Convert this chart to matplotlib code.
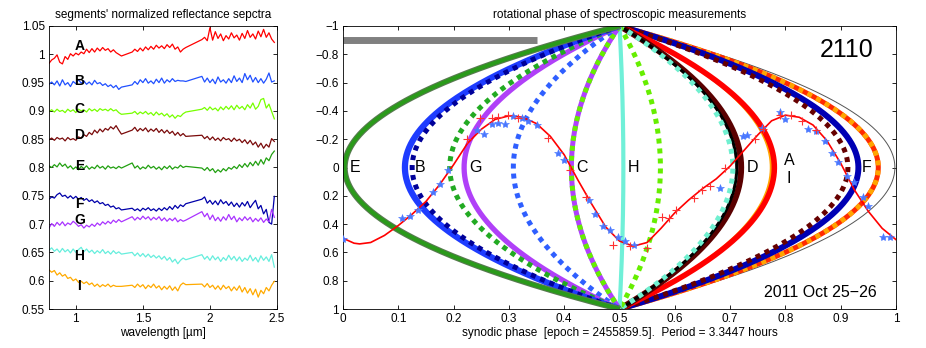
import numpy as np
import matplotlib
matplotlib.use('Agg')
from matplotlib import pyplot as plt

plt.rcParams['font.family'] = ['Liberation Sans', 'DejaVu Sans']

# ---------------- left panel: spectra ----------------
# wavelength grid in three pieces (telluric gaps are bridged by straight lines)
wl = np.r_[np.arange(80, 135, 2), np.arange(142, 183, 2), np.arange(194, 249, 2)] / 100.0

spec_A = [0.984, 0.990, 0.993, 0.999, 0.986, 0.983, 0.996, 0.991, 1.001, 0.997, 1.002, 0.999, 1.004, 1.001,
          1.009, 1.003, 1.010, 1.004, 1.011, 1.006, 1.012, 1.007, 1.010, 1.004, 1.008, 1.003, 1.000, 0.997,
          1.004, 1.009, 1.005, 1.011, 1.006, 1.013, 1.008, 1.014, 1.009, 1.016, 1.011, 1.015, 1.010, 1.017,
          1.012, 1.018, 1.009, 1.013, 1.004, 1.009, 1.012,
          1.026, 1.030, 1.024, 1.047, 1.025, 1.040, 1.028, 1.036, 1.024, 1.033, 1.027, 1.038, 1.029, 1.034,
          1.025, 1.037, 1.028, 1.042, 1.030, 1.036, 1.027, 1.041, 1.031, 1.044, 1.030, 1.038, 1.027, 1.021]
spec_B = [0.947, 0.951, 0.946, 0.953, 0.944, 0.955, 0.946, 0.950, 0.943, 0.952, 0.948, 0.955, 0.949, 0.953,
          0.947, 0.951, 0.946, 0.954, 0.948, 0.950, 0.945, 0.948, 0.943, 0.946, 0.941, 0.945, 0.938, 0.942,
          0.946, 0.952, 0.947, 0.955, 0.950, 0.957, 0.949, 0.953, 0.948, 0.956, 0.950, 0.958, 0.949, 0.955,
          0.951, 0.957, 0.952, 0.954, 0.953, 0.953, 0.952,
          0.961, 0.951, 0.958, 0.950, 0.956, 0.948, 0.960, 0.951, 0.955, 0.949, 0.957, 0.950, 0.962, 0.952,
          0.958, 0.950, 0.966, 0.955, 0.963, 0.951, 0.959, 0.950, 0.957, 0.949, 0.956, 0.967, 0.951, 0.953]
spec_C = [0.899, 0.902, 0.898, 0.903, 0.899, 0.901, 0.897, 0.903, 0.899, 0.902, 0.897, 0.903, 0.900, 0.902,
          0.898, 0.904, 0.900, 0.903, 0.899, 0.904, 0.901, 0.903, 0.900, 0.904, 0.900, 0.902, 0.897, 0.894,
          0.896, 0.899, 0.894, 0.898, 0.895, 0.899, 0.894, 0.897, 0.892, 0.898, 0.893, 0.896, 0.891, 0.895,
          0.889, 0.893, 0.887, 0.892, 0.890, 0.895, 0.898,
          0.903, 0.906, 0.901, 0.907, 0.902, 0.905, 0.900, 0.907, 0.902, 0.908, 0.903, 0.909, 0.902, 0.910,
          0.904, 0.908, 0.902, 0.911, 0.905, 0.914, 0.903, 0.908, 0.920, 0.922, 0.905, 0.912, 0.899, 0.886]
spec_D = [0.849, 0.852, 0.848, 0.853, 0.850, 0.852, 0.847, 0.853, 0.849, 0.851, 0.848, 0.854, 0.852, 0.858,
          0.855, 0.862, 0.858, 0.866, 0.861, 0.868, 0.863, 0.869, 0.866, 0.872, 0.868, 0.874, 0.866, 0.859,
          0.866, 0.871, 0.864, 0.869, 0.865, 0.870, 0.863, 0.868, 0.864, 0.869, 0.862, 0.867, 0.861, 0.866,
          0.860, 0.864, 0.857, 0.862, 0.856, 0.860, 0.855,
          0.857, 0.851, 0.855, 0.849, 0.854, 0.848, 0.852, 0.847, 0.853, 0.849, 0.851, 0.846, 0.852, 0.847,
          0.850, 0.844, 0.849, 0.842, 0.848, 0.840, 0.845, 0.836, 0.843, 0.834, 0.841, 0.836, 0.851, 0.846]
spec_E = [0.803, 0.800, 0.805, 0.801, 0.808, 0.802, 0.806, 0.799, 0.803, 0.797, 0.801, 0.796, 0.802, 0.798,
          0.803, 0.797, 0.801, 0.798, 0.804, 0.799, 0.802, 0.797, 0.803, 0.799, 0.801, 0.798, 0.802, 0.799,
          0.808, 0.799, 0.803, 0.797, 0.801, 0.798, 0.804, 0.799, 0.802, 0.797, 0.801, 0.796, 0.802, 0.798,
          0.803, 0.797, 0.801, 0.799, 0.804, 0.800, 0.802,
          0.799, 0.795, 0.800, 0.794, 0.798, 0.791, 0.796, 0.792, 0.798, 0.794, 0.800, 0.797, 0.802, 0.798,
          0.805, 0.800, 0.807, 0.801, 0.809, 0.803, 0.811, 0.804, 0.814, 0.806, 0.817, 0.812, 0.823, 0.829]
spec_F = [0.744, 0.748, 0.746, 0.752, 0.755, 0.749, 0.751, 0.746, 0.750, 0.745, 0.749, 0.744, 0.747, 0.742,
          0.745, 0.740, 0.743, 0.738, 0.741, 0.736, 0.738, 0.733, 0.735, 0.730, 0.732, 0.727, 0.729, 0.725,
          0.728, 0.724, 0.727, 0.723, 0.728, 0.725, 0.729, 0.724, 0.727, 0.723, 0.728, 0.724, 0.729, 0.725,
          0.731, 0.726, 0.733, 0.728, 0.734, 0.731, 0.736,
          0.744, 0.748, 0.737, 0.742, 0.735, 0.741, 0.734, 0.743, 0.736, 0.740, 0.733, 0.739, 0.731, 0.737,
          0.730, 0.738, 0.732, 0.740, 0.729, 0.736, 0.742, 0.727, 0.733, 0.718, 0.726, 0.703, 0.700, 0.749]
spec_G = [0.693, 0.701, 0.696, 0.703, 0.698, 0.704, 0.697, 0.702, 0.699, 0.705, 0.701, 0.696, 0.699, 0.693,
          0.698, 0.695, 0.700, 0.696, 0.702, 0.698, 0.704, 0.700, 0.705, 0.701, 0.707, 0.703, 0.708, 0.704,
          0.713, 0.707, 0.712, 0.708, 0.714, 0.709, 0.713, 0.707, 0.712, 0.708, 0.713, 0.706, 0.711, 0.705,
          0.710, 0.706, 0.711, 0.704, 0.708, 0.705, 0.707,
          0.722, 0.713, 0.719, 0.708, 0.716, 0.706, 0.712, 0.705, 0.713, 0.707, 0.717, 0.708, 0.714, 0.704,
          0.711, 0.706, 0.713, 0.707, 0.712, 0.704, 0.710, 0.705, 0.711, 0.703, 0.709, 0.704, 0.726, 0.712]
spec_H = [0.654, 0.658, 0.652, 0.656, 0.650, 0.657, 0.651, 0.655, 0.649, 0.656, 0.650, 0.655, 0.659, 0.651,
          0.656, 0.650, 0.654, 0.648, 0.653, 0.649, 0.655, 0.648, 0.652, 0.647, 0.653, 0.648, 0.651, 0.647,
          0.650, 0.644, 0.649, 0.643, 0.648, 0.642, 0.647, 0.641, 0.645, 0.640, 0.644, 0.638, 0.643, 0.636,
          0.641, 0.633, 0.638, 0.630, 0.636, 0.640, 0.637,
          0.646, 0.638, 0.643, 0.636, 0.644, 0.637, 0.642, 0.634, 0.641, 0.636, 0.645, 0.637, 0.643, 0.635,
          0.642, 0.634, 0.640, 0.636, 0.645, 0.635, 0.641, 0.633, 0.644, 0.636, 0.642, 0.634, 0.646, 0.624]
spec_I = [0.619, 0.615, 0.618, 0.610, 0.614, 0.608, 0.611, 0.604, 0.606, 0.600, 0.603, 0.597, 0.599, 0.595,
          0.598, 0.593, 0.596, 0.590, 0.594, 0.589, 0.593, 0.590, 0.594, 0.589, 0.592, 0.590, 0.590, 0.590,
          0.592, 0.588, 0.594, 0.589, 0.593, 0.586, 0.592, 0.588, 0.594, 0.587, 0.591, 0.584, 0.590, 0.585,
          0.591, 0.583, 0.589, 0.582, 0.592, 0.596, 0.593,
          0.594, 0.589, 0.595, 0.588, 0.592, 0.585, 0.591, 0.584, 0.592, 0.586, 0.590, 0.582, 0.589, 0.583,
          0.591, 0.580, 0.588, 0.578, 0.586, 0.575, 0.585, 0.571, 0.583, 0.577, 0.588, 0.582, 0.592, 0.599]

spectra = [spec_A, spec_B, spec_C, spec_D, spec_E, spec_F, spec_G, spec_H, spec_I]
spec_names = ['A', 'B', 'C', 'D', 'E', 'F', 'G', 'H', 'I']
spec_colors = ['#ff0000', '#2050ff', '#77ff00', '#7a0a0a', '#22a011', '#0000aa', '#aa33ff', '#66eedd', '#ffaa00']
spec_label_y = [1.015, 0.953, 0.904, 0.858, 0.802, 0.736, 0.708, 0.643, 0.591]

# ---------------- right panel: rotational phase ----------------
lc_x = [0.000, 0.020, 0.030, 0.050, 0.075, 0.100, 0.125, 0.150, 0.175, 0.200, 0.225, 0.250, 0.275, 0.300,
        0.325, 0.350, 0.375, 0.400, 0.425, 0.450, 0.475, 0.500, 0.525, 0.550, 0.575, 0.600, 0.625, 0.650,
        0.675, 0.700, 0.725, 0.750, 0.775, 0.800, 0.825, 0.850, 0.875, 0.900, 0.925, 0.950, 0.975, 1.000]
lc_y = [0.50, 0.535, 0.54, 0.53, 0.48, 0.41, 0.33, 0.24, 0.12, -0.02, -0.17, -0.27, -0.34, -0.365,
        -0.355, -0.31, -0.22, -0.09, 0.09, 0.26, 0.42, 0.52, 0.556, 0.53, 0.43, 0.32, 0.23, 0.15,
        0.08, -0.01, -0.12, -0.23, -0.33, -0.37, -0.355, -0.30, -0.19, -0.03, 0.16, 0.31, 0.43, 0.51]

star_x = [0.000, 0.106, 0.121, 0.135, 0.163, 0.175, 0.190, 0.242, 0.255, 0.269, 0.281, 0.293, 0.308, 0.323,
          0.335, 0.350, 0.389, 0.400, 0.444, 0.456, 0.471, 0.483, 0.497, 0.510, 0.527, 0.682, 0.724, 0.730,
          0.757, 0.790, 0.800, 0.841, 0.856, 0.872, 0.884, 0.896, 0.911, 0.924, 0.941, 0.950, 0.976, 0.990]
star_y = [0.506, 0.358, 0.34, 0.30, 0.17, 0.12, 0.016, -0.266, -0.24, -0.31, -0.317, -0.31, -0.365, -0.35,
          -0.33, -0.30, -0.10, -0.05, 0.228, 0.33, 0.41, 0.44, 0.49, 0.52, 0.55, 0.147, -0.22, -0.23,
          -0.28, -0.39, -0.34, -0.27, -0.26, -0.185, -0.10, -0.04, 0.06, 0.10, 0.205, 0.27, 0.49, 0.49]
plus_x = [0.224, 0.248, 0.269, 0.280, 0.299, 0.317, 0.371, 0.410, 0.440, 0.489, 0.519, 0.549, 0.576, 0.590,
          0.603, 0.634, 0.649, 0.664, 0.691, 0.745, 0.760, 0.790, 0.810, 0.830, 0.856]
plus_y = [-0.20, -0.35, -0.35, -0.36, -0.37, -0.35, -0.21, 0.02, 0.205, 0.546, 0.556, 0.57, 0.35, 0.36,
          0.30, 0.218, 0.16, 0.13, 0.005, -0.20, -0.27, -0.37, -0.37, -0.33, -0.266]

# phase of each track at the equator (y = 0), drawn back to front
track_vertex = [0.998, 0.968, 0.968, 0.932, 0.913, 0.774, 0.780, 0.720, 0.712, 0.705, 0.574, 0.507,
                0.413, 0.413, 0.308, 0.219, 0.193, 0.112, 0.125, 0.003, 0.003]
dot = (0, (1, 1))
track_style = [
    dict(color='#555555', lw=0.7),
    dict(color='#ff2a00', lw=3.6),
    dict(color='#ffa500', lw=3.6, ls=dot),
    dict(color='#0000b4', lw=4.3),
    dict(color='#660000', lw=3.6, ls=dot),
    dict(color='#ffa500', lw=1.8),
    dict(color='#ff0000', lw=4.0),
    dict(color='#5a0000', lw=4.3),
    dict(color='#000000', lw=2.2),
    dict(color='#70f0d0', lw=3.6, ls=dot),
    dict(color='#66ee00', lw=3.6, ls=dot),
    dict(color='#70f0d8', lw=3.0),
    dict(color='#b040ff', lw=3.6),
    dict(color='#66ee00', lw=3.6, ls=dot),
    dict(color='#2f5fff', lw=3.6, ls=dot),
    dict(color='#b040f8', lw=3.8),
    dict(color='#22aa22', lw=3.6, ls=dot),
    dict(color='#1e3cff', lw=4.5),
    dict(color='#000099', lw=3.6, ls=dot),
    dict(color='#587a50', lw=4.4),
    dict(color='#2a9a1a', lw=2.8),
]

seg_txt = ['E', 'B', 'G', 'C', 'H', 'D', 'A', 'I', 'F']
seg_x = [0.022, 0.140, 0.2405, 0.433, 0.525, 0.740, 0.8065, 0.8065, 0.947]
seg_y = [0, 0, 0, 0, 0, 0, -0.05, 0.08, 0]

fig = plt.figure(figsize=(9.26, 3.48), dpi=100)

# left
ax1 = fig.add_axes([49 / 926, 1 - 309 / 348, 228 / 926, 283 / 348])
for s, c in zip(spectra, spec_colors):
    ax1.plot(wl, s, color=c, lw=0.9)
for name, yy in zip(spec_names, spec_label_y):
    ax1.text(1.027, yy, name, fontsize=10, fontweight='bold', ha='center', va='center', zorder=5)
ax1.set_xlim(0.8, 2.5)
ax1.set_ylim(0.55, 1.05)
ax1.set_xticks([1, 1.5, 2, 2.5])
ax1.set_xticklabels(['1', '1.5', '2', '2.5'])
yt = [0.55, 0.6, 0.65, 0.7, 0.75, 0.8, 0.85, 0.9, 0.95, 1.0, 1.05]
ax1.set_yticks(yt)
ax1.set_yticklabels(['0.55', '0.6', '0.65', '0.7', '0.75', '0.8', '0.85', '0.9', '0.95', '1', '1.05'])
ax1.set_title("segments' normalized reflectance sepctra", fontsize=8.5, pad=6)
ax1.set_xlabel('wavelength [µm]', fontsize=8.5, labelpad=1)

# right
ax2 = fig.add_axes([343 / 926, 1 - 309 / 348, 553 / 926, 283 / 348])
yy = np.linspace(-1, 1, 301)
for v, st in zip(track_vertex, track_style):
    ax2.plot(0.5 + (v - 0.5) * (1 - yy ** 2), yy, solid_capstyle='butt', **st)
ax2.plot([0, 0.35], [-0.904, -0.904], color='#808080', lw=5, solid_capstyle='butt')
ax2.plot(lc_x, lc_y, color='#ff0000', lw=1.2, zorder=6)
ax2.plot(star_x, star_y, ls='none', marker='*', ms=6, color='#4a78ff', mew=0.4, zorder=7)
ax2.plot(plus_x, plus_y, ls='none', marker='+', ms=6, color='#ff3030', mew=0.8, zorder=7)
for t, x, y in zip(seg_txt, seg_x, seg_y):
    ax2.text(x, y, t, fontsize=11.5, ha='center', va='center', zorder=8)
ax2.text(0.959, -0.83, '2110', fontsize=18, ha='right', va='center')
ax2.text(0.965, 0.88, '2011 Oct 25\u221226', fontsize=11.5, ha='right', va='center')
ax2.set_xlim(0, 1)
ax2.set_ylim(1, -1)
ax2.set_xticks(np.arange(11) / 10)
ax2.set_xticklabels(['0', '0.1', '0.2', '0.3', '0.4', '0.5', '0.6', '0.7', '0.8', '0.9', '1'])
ax2.set_yticks([-1, -0.8, -0.6, -0.4, -0.2, 0, 0.2, 0.4, 0.6, 0.8, 1])
ax2.set_yticklabels(['\u22121', '\u22120.8', '\u22120.6', '\u22120.4', '\u22120.2', '0',
                     '0.2', '0.4', '0.6', '0.8', '1'])
ax2.set_title('rotational phase of spectroscopic measurements', fontsize=8.5, pad=6)
ax2.set_xlabel('synodic phase  [epoch = 2455859.5].  Period = 3.3447 hours', fontsize=8.5, labelpad=1)

for ax in (ax1, ax2):
    ax.tick_params(direction='in', top=True, right=True, length=3, width=0.6, labelsize=8.5, pad=3)
    for sp in ax.spines.values():
        sp.set_linewidth(0.6)

plt.savefig('out.png', dpi=100)
